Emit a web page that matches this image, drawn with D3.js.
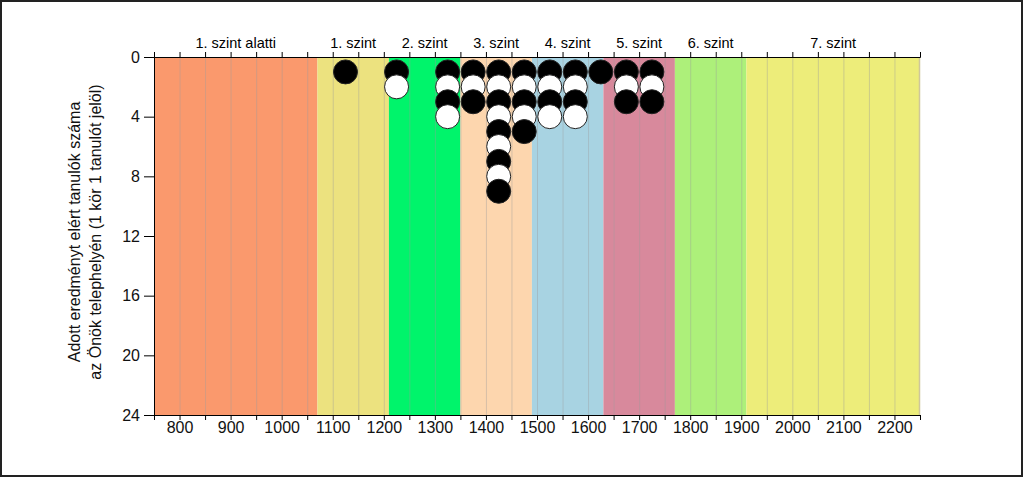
<!DOCTYPE html>
<html>
<head>
<meta charset="utf-8">
<script src="https://cdn.jsdelivr.net/npm/d3@7"></script>
<style>
  body { margin: 0; background: #fff; }
  svg { display: block; font-family: 'Liberation Sans', Arial, sans-serif; }
</style>
</head>
<body>
<div id="chart"></div>
<script>
// skill level bands (score ranges)
const bandLabels = ['1. szint alatti', '1. szint', '2. szint', '3. szint', '4. szint', '5. szint', '6. szint', '7. szint'];
const bandEdges = [750, 1070, 1210, 1350, 1490, 1630, 1770, 1910, 2250];
const bandColors = ['#fa996d', '#ece27f', '#00f46b', '#fdd6ae', '#a8d3e2', '#d8899c', '#adf07a', '#eded7a'];

// students: score column and how many students there
const scoreBins = [1125, 1225, 1325, 1375, 1425, 1475, 1525, 1575, 1625, 1675, 1725];
const studentCounts = [1, 2, 4, 3, 9, 5, 4, 4, 1, 3, 3];

const xTicks = [800, 900, 1000, 1100, 1200, 1300, 1400, 1500, 1600, 1700, 1800, 1900, 2000, 2100, 2200];
const yTicks = [0, 4, 8, 12, 16, 20, 24];

const size = { width: 1024, height: 478 };
const margin = { left: 154, top: 57, right: 104, bottom: 63 };

const svg = d3.select('#chart')
  .append('svg')
  .attr('width', size.width)
  .attr('height', size.height);

const x = d3.scaleLinear()
  .domain([750, 2250])
  .range([margin.left, size.width - margin.right]);

const y = d3.scaleLinear()
  .domain([0, 24])
  .range([margin.top, size.height - margin.bottom]);

const color = d3.scaleOrdinal().domain(bandLabels).range(bandColors);

const bands = bandLabels.map((label, i) => ({ label, from: bandEdges[i], to: bandEdges[i + 1] }));

// coloured level bands
svg.selectAll('.band')
  .data(bands)
  .enter()
  .append('rect')
  .attr('x', (d) => x(d.from))
  .attr('y', y(0))
  .attr('width', (d) => x(d.to) - x(d.from))
  .attr('height', y(24) - y(0))
  .attr('fill', (d) => color(d.label));

// vertical grid every 50
const gridVals = d3.range(800, 2250, 50);
svg.selectAll('.grid')
  .data(gridVals)
  .enter()
  .append('line')
  .attr('x1', (d) => x(d) + 0.5)
  .attr('x2', (d) => x(d) + 0.5)
  .attr('y1', y(0))
  .attr('y2', y(24))
  .attr('stroke', '#9a9a9a')
  .attr('stroke-opacity', 0.4)
  .attr('stroke-width', 1);

// right edge line
svg.append('line')
  .attr('x1', x(2250) - 0.5).attr('x2', x(2250) - 0.5)
  .attr('y1', y(0)).attr('y2', y(24))
  .attr('stroke', '#cfc79a')
  .attr('stroke-width', 1.5);

// band names on top
svg.selectAll('.bandLabel')
  .data(bands)
  .enter()
  .append('text')
  .attr('x', (d) => x((d.from + d.to) / 2))
  .attr('y', 48)
  .attr('text-anchor', 'middle')
  .attr('font-size', 14.5)
  .attr('fill', '#000')
  .text((d) => d.label);

// one circle per student, stacked down from the top
const dots = [];
scoreBins.forEach((s, i) => {
  d3.range(1, studentCounts[i] + 1).forEach((k) => dots.push({ score: s, n: k }));
});

svg.selectAll('.dot')
  .data(dots)
  .enter()
  .append('circle')
  .attr('cx', (d) => x(d.score))
  .attr('cy', (d) => y(d.n))
  .attr('r', 12)
  .attr('fill', (d) => (d.n % 2 === 1 ? '#000' : '#fff'))
  .attr('stroke', '#222')
  .attr('stroke-width', 1);

// axes
const minorTicks = d3.range(750, 2251, 50);

svg.append('g')
  .attr('transform', `translate(0,${y(0)})`)
  .call(d3.axisTop(x).tickValues(minorTicks).tickSize(5).tickFormat(''))
  .call((g) => g.select('.domain').attr('stroke', '#000'));

svg.append('g')
  .attr('transform', `translate(0,${y(24)})`)
  .call(d3.axisBottom(x).tickValues(minorTicks).tickSize(5).tickFormat(''))
  .call((g) => g.select('.domain').attr('stroke', '#000'));

svg.append('g')
  .attr('transform', `translate(0,${y(24)})`)
  .call(d3.axisBottom(x).tickValues(xTicks).tickSize(0).tickPadding(7).tickFormat(d3.format('d')))
  .call((g) => g.select('.domain').remove())
  .call((g) => g.selectAll('text').attr('font-size', 16).attr('fill', '#111').attr('font-family', 'Liberation Sans, Arial, sans-serif'));

svg.append('g')
  .attr('transform', `translate(${x(750)},0)`)
  .call(d3.axisLeft(y).tickValues(yTicks).tickSize(10).tickPadding(4))
  .call((g) => g.select('.domain').attr('stroke', '#000'))
  .call((g) => g.selectAll('text').attr('font-size', 16).attr('fill', '#111').attr('font-family', 'Liberation Sans, Arial, sans-serif'));

// y title
const title = svg.append('text')
  .attr('transform', `translate(86,${(y(0) + y(24)) / 2 - 4}) rotate(-90)`)
  .attr('text-anchor', 'middle')
  .attr('font-size', 16)
  .attr('fill', '#111');
title.append('tspan').attr('x', 0).attr('dy', '-0.35em').text('Adott eredményt elért tanulók száma');
title.append('tspan').attr('x', 0).attr('dy', '1.3em').text('az Önök telephelyén (1 kör 1 tanulót jelöl)');

// outer frame
svg.append('rect')
  .attr('x', 1).attr('y', 1)
  .attr('width', size.width - 3).attr('height', size.height - 3)
  .attr('fill', 'none')
  .attr('stroke', '#222')
  .attr('stroke-width', 2);
</script>
</body>
</html>
